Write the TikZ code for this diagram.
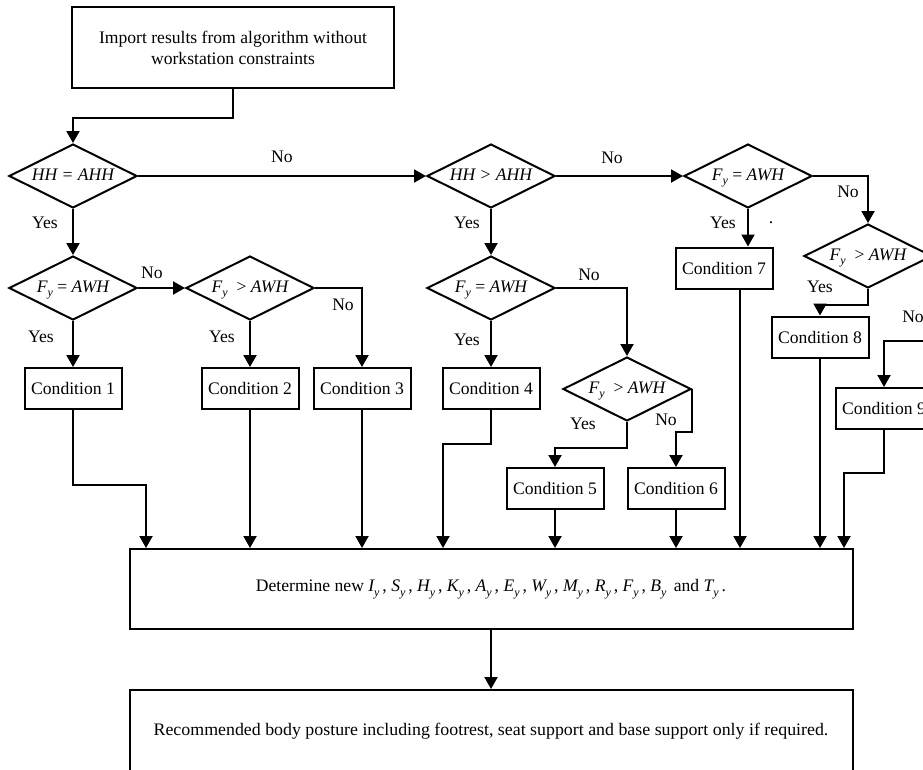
\documentclass[tikz,border=0pt]{standalone}
\usepackage{fontspec}
\setmainfont{Liberation Serif}
\usetikzlibrary{arrows.meta,shapes.geometric,calc}
\newcommand\sy{\raisebox{-0.55ex}{\fontsize{9pt}{9pt}\selectfont\itshape y}}
\newcommand\Fy{{\itshape F}\sy}
\newcommand\vy[1]{{\itshape #1}\sy\,}
\begin{document}
\begin{tikzpicture}[x=0.75pt,y=-0.75pt,
  every node/.style={font=\fontsize{13.2pt}{15.8pt}\selectfont},
  arr/.style={line width=1.5pt,-{Triangle[length=9pt,width=9.75pt]}},
  box/.style={draw,line width=1.5pt,rectangle,inner sep=0pt,align=center},
  cond/.style={box,minimum width=72.75pt,minimum height=30.75pt},
  dec/.style={draw,line width=1.5pt,diamond,aspect=2,inner sep=0pt,
    minimum width=96pt,minimum height=48pt,text height=8pt,text depth=2pt},
  lab/.style={inner sep=1pt}]
\useasboundingbox (0,0) rectangle (923,769);
\clip (0,0) rectangle (923,769);
% boxes
\node[box,minimum width=241.5pt,minimum height=60.75pt] (top) at (233,47.5)
  {Import results from algorithm without\\workstation constraints};
\node[dec] (d1) at (73,176) {\itshape HH = AHH};
\node[dec] (d2) at (491,176) {\itshape HH > AHH};
\node[dec] (d3) at (748,176) {\Fy{} = {\itshape AWH}};
\node[dec] (d4) at (868,256) {\Fy\ \ > {\itshape AWH}};
\node[dec] (da) at (73,288) {\Fy{} = {\itshape AWH}};
\node[dec] (db) at (250,288) {\Fy\ \ > {\itshape AWH}};
\node[dec] (d5) at (491,288) {\Fy{} = {\itshape AWH}};
\node[dec] (d6) at (627,389) {\Fy\ \ > {\itshape AWH}};
\node[cond] (c1) at (73,388.5) {Condition 1};
\node[cond] (c2) at (250,388.5) {Condition 2};
\node[cond] (c3) at (362,388.5) {Condition 3};
\node[cond] (c4) at (491,388.5) {Condition 4};
\node[cond] (c5) at (555,488.5) {Condition 5};
\node[cond] (c6) at (676,488.5) {Condition 6};
\node[cond] (c7) at (724,268) {Condition 7};
\node[cond] (c8) at (820,337) {Condition 8};
\node[cond] (c9) at (884,408.5) {Condition 9};
\node[box,minimum width=542.25pt,minimum height=60pt] (big) at (491,589)
  {Determine new \vy{I}, \vy{S}, \vy{H}, \vy{K}, \vy{A}, \vy{E}, \vy{W}, \vy{M}, \vy{R}, \vy{F}, \vy{B} and \vy{T}.};
\node[box,minimum width=542.25pt,minimum height=61.5pt] (rec) at (491,731)
  {\scalebox{1.015}[1]{Recommended body posture including footrest, seat support and base support only if required.}};
% junction coordinates
\coordinate (j1) at (146,485);
\coordinate (j4) at (443,444);
\coordinate (j7) at (740,288);
\coordinate (j9) at (844,473);
\coordinate (j4r) at (945,256);
\coordinate (j4s) at (945,341);
% connectors
\draw[arr] (top.south) |- ($(d1.north)+(0,-25)$) -- (d1.north);
\draw[arr] (d1.east) -- (d2.west);
\draw[arr] (d2.east) -- (d3.west);
\draw[arr] (d3.east) -| (d4.north);
\draw[arr] (d1.south) -- (da.north);
\draw[arr] (da.east) -- (db.west);
\draw[arr] (da.south) -- (c1.north);
\draw[arr] (db.south) -- (c2.north);
\draw[arr] (db.east) -| (c3.north);
\draw[arr] (d2.south) -- (d5.north);
\draw[arr] (d5.south) -- (c4.north);
\draw[arr] (d5.east) -| (d6.north);
\draw[arr] (d6.south) -- ++(0,26) -| (c5.north);
\draw[arr] (d6.east) -- ++(0,43) -| (c6.north);
\draw[arr] (d3.south) -- (d3.south |- c7.north);
\draw[arr] (d4.south) -- ++(0,16) -| (c8.north);
\draw[arr] (d4.east) -- (j4r) -- (j4s) -| (c9.north);
\draw[arr] (c1.south) |- (j1) -- (j1 |- big.north);
\draw[arr] (c2.south) -- (c2.south |- big.north);
\draw[arr] (c3.south) -- (c3.south |- big.north);
\draw[arr] (c4.south) |- (j4) -- (j4 |- big.north);
\draw[arr] (c5.south) -- (c5.south |- big.north);
\draw[arr] (c6.south) -- (c6.south |- big.north);
\draw[arr] (j7) -- (j7 |- big.north);
\draw[arr] (c8.south) -- (c8.south |- big.north);
\draw[arr] (c9.south) |- (j9) -- (j9 |- big.north);
\draw[arr] (big.south) -- (rec.north);
% labels
\node[lab] at (282,157) {No};
\node[lab] at (612,158) {No};
\node[lab] at (45,223) {Yes};
\node[lab] at (467,223) {Yes};
\node[lab] at (723,223) {Yes};
\node[lab] at (771,223) {.};
\node[lab] at (848,192) {No};
\node[lab] at (152,273) {No};
\node[lab,fill=white] at (589,275) {No};
\node[lab] at (41,337) {Yes};
\node[lab] at (222,337) {Yes};
\node[lab] at (343,305) {No};
\node[lab] at (467,340) {Yes};
\node[lab] at (820,287) {Yes};
\node[lab] at (913,317) {No};
\node[lab] at (583,424) {Yes};
\node[lab,fill=white] at (666,420) {No};
\end{tikzpicture}
\end{document}
